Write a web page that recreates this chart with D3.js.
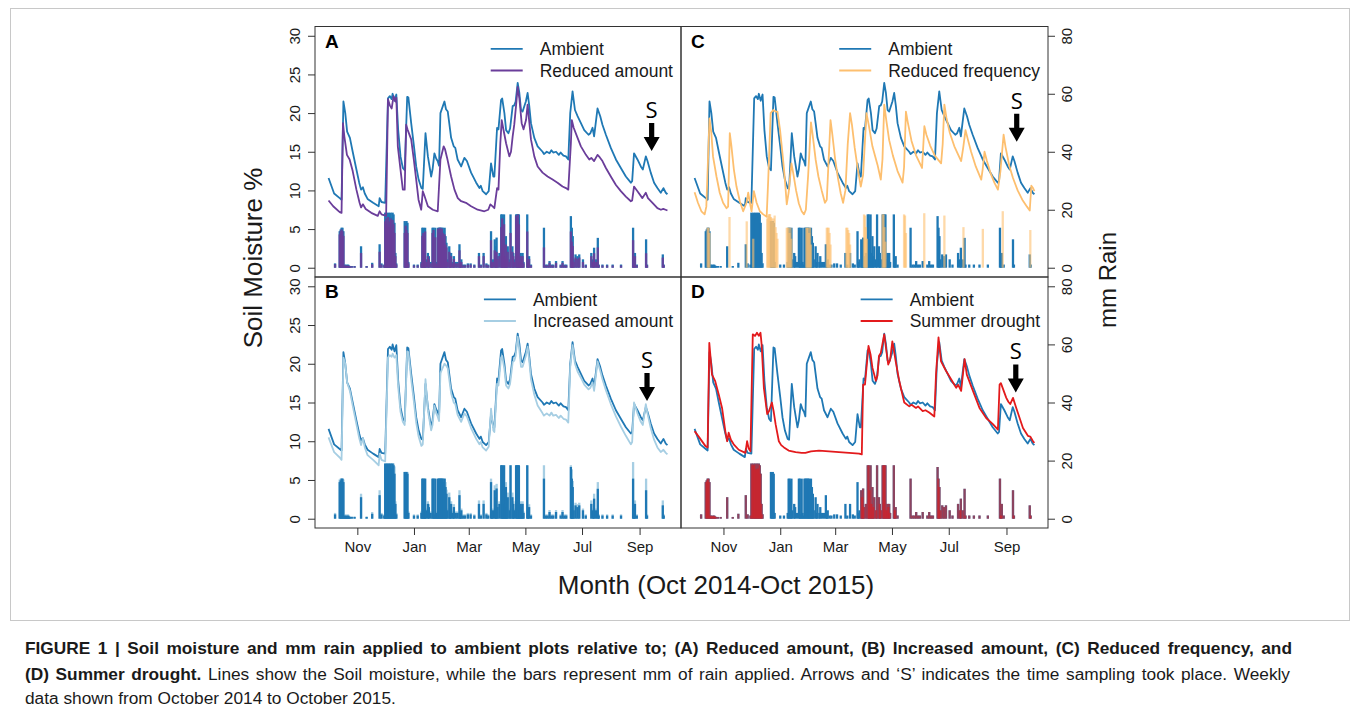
<!DOCTYPE html>
<html>
<head>
<meta charset="utf-8">
<script src="https://cdn.jsdelivr.net/npm/d3@7"></script>
<style>
  body { margin: 0; background: #fff; }
  text { font-family: "Liberation Sans", Arial, Helvetica, sans-serif; fill: #1a1a1a; }
</style>
</head>
<body>
<svg id="fig" width="1358" height="712"></svg>
<script>
// days are counted from 1 Oct 2014, moisture in %, rain in mm
const monthTicks = ['2014-11-01', '2015-01-01', '2015-03-01', '2015-05-01', '2015-07-01', '2015-09-01']
const moistTicks = [0, 5, 10, 15, 20, 25, 30]
const rainTicks = [0, 20, 40, 60, 80]

const ambientMoist = [[0,11.6],[6,9.6],[12,9.0],[14,8.8],[16,21.5],[18,20.0],[20,17.6],[23,16.8],[26,15.0],[30,12.7],[33,11.0],[35,10.1],[37,10.4],[39,9.6],[42,8.9],[48,8.4],[54,7.95],[55,9.0],[57,8.5],[61,8.4],[64,21.9],[66,22.2],[68,21.8],[69,22.5],[71,21.6],[73,22.4],[75,17.8],[77.5,14.4],[80,12.9],[82,12.6],[84.7,22.1],[86,22.0],[89,18.7],[92,15.7],[94.4,13.1],[97,11.4],[100,10.3],[101.5,10.2],[104.4,17.4],[107,14.4],[110.5,11.8],[112,12.7],[114,14.8],[116,14.1],[117.5,13.8],[119,13.2],[120.5,20.0],[124.8,21.5],[126.5,20.5],[128.4,20.2],[130,18.7],[132,16.8],[134.8,15.7],[136.5,15.5],[139,14.0],[142.8,13.1],[146.3,14.2],[149,13.8],[153.5,12.3],[159,11.0],[162.5,10.3],[164,10.6],[166,9.9],[169.7,9.5],[172.5,9.9],[175,13.5],[177.5,11.8],[178.6,11.8],[181.5,18.1],[183,17.9],[185.8,21.7],[187,21.9],[189.4,20.0],[191.2,17.8],[193.7,17.4],[195.5,18.0],[198.3,20.9],[200,21.0],[201.5,21.5],[203.7,23.9],[205.5,22.6],[207.3,20.4],[209,20.2],[212.5,21.5],[214.4,22.6],[216.2,20.9],[218,18.7],[221.6,16.8],[225.2,15.7],[230.5,15.0],[232,14.7],[235,15.0],[238,14.8],[240,15.2],[242,14.9],[245,15.0],[248,14.6],[250,14.9],[253,14.5],[255.7,14.4],[258.2,14.0],[260.3,20.0],[262.8,22.8],[265.4,20.4],[268.2,19.6],[271.8,18.7],[275.4,17.8],[280,17.2],[282,17.4],[284.3,18.1],[286,17.0],[289.7,20.6],[292.6,19.6],[295,18.5],[298.7,17.2],[304,15.5],[309.5,14.0],[314.8,12.9],[320.2,11.8],[325.6,11.0],[327,11.2],[329,14.8],[332.7,14.0],[336.3,13.1],[338.5,12.7],[341.7,14.4],[343.5,13.8],[347,12.3],[350.6,11.0],[354.2,10.3],[357.8,9.7],[360.7,10.3],[363.2,9.7],[365,9.5]]

const reducedAmountMoist = [[0,8.7],[5,7.95],[12,7.2],[14,7.1],[15.5,18.7],[17,17.0],[19.8,14.6],[22.7,14.0],[26,12.5],[30,10.1],[33.4,8.4],[35,7.8],[37,8.2],[40,7.6],[46,7.1],[53,6.7],[55,7.3],[57,6.9],[62,6.7],[64,21.8],[66,21.0],[68,20.6],[70,22.2],[72,21.5],[73,22.0],[74.6,15.7],[77.5,12.7],[80,10.1],[82,10.1],[83.6,18.5],[85,17.9],[89,16.6],[91.8,14.0],[94.4,11.4],[96.9,8.8],[99.8,7.5],[101.5,9.9],[103,9.4],[107,7.95],[112.3,7.5],[117.6,7.3],[120.5,14.0],[124,15.7],[125.5,15.3],[127.7,14.2],[132,11.8],[135.6,10.1],[139.2,9.0],[142.8,8.6],[148,8.4],[153.5,7.95],[160.6,7.5],[167.8,7.3],[172,7.5],[174.3,8.2],[177,7.9],[178.6,7.7],[181.5,10.3],[183,10.1],[185,16.1],[186.5,19.1],[188,18.1],[191.2,16.1],[194.7,14.4],[196.5,15.0],[198.3,17.0],[200,18.5],[201.9,20.9],[203.7,23.4],[205.5,21.9],[208,18.7],[210,17.9],[212.7,19.1],[214.4,21.1],[216,19.1],[218,16.6],[221.6,14.4],[225.2,13.1],[230.5,12.3],[235.9,11.8],[241.3,11.4],[246.6,11.0],[252,10.5],[255.7,10.3],[258.2,10.1],[261,16.1],[262,19.1],[264,18.1],[268.2,16.8],[271.8,15.7],[277.2,14.6],[280.8,14.0],[283,14.2],[286,13.8],[289.7,14.6],[292,14.3],[295,13.8],[298.7,12.9],[304,11.8],[309.5,10.7],[314.8,9.9],[320.2,9.2],[325.6,8.6],[327,8.7],[329,10.5],[332.7,9.9],[338,9.0],[341.7,9.7],[344,9.0],[348.9,8.4],[354.2,7.7],[358,7.5],[360.5,7.6],[363,7.5],[365,7.4]]

const increasedAmountMoist = [[0,10.5],[6,8.6],[12,7.9],[14,7.6],[16,20.8],[18,20.0],[20,17.6],[23,16.5],[26,14.6],[30,12.2],[33,10.4],[35,9.5],[37,10.4],[39,9.2],[42,8.2],[48,7.6],[54,6.9],[55,8.4],[57,7.6],[61,7.4],[64,20.8],[66,21.1],[68,20.9],[69,21.3],[71,20.8],[73,21.1],[75,17.0],[77.5,13.8],[80,12.5],[82,12.1],[84.7,21.6],[86,21.5],[89,18.0],[92,15.0],[94.4,12.4],[97,10.6],[100,9.4],[101.5,9.6],[104.4,18.0],[107,14.0],[110.5,11.4],[112,12.1],[114,14.6],[116,13.6],[117.5,13.2],[119,12.6],[120.5,18.8],[124.8,20.0],[126.5,19.8],[128.4,19.4],[130,18.0],[132,16.2],[134.8,15.0],[136.5,14.8],[139,13.4],[142.8,12.5],[146.3,13.6],[149,13.2],[153.5,11.7],[159,10.3],[162.5,9.6],[164,9.9],[166,9.2],[169.7,8.8],[172.5,9.3],[175,14.2],[177.5,11.4],[178.6,11.2],[181.5,17.4],[183,17.2],[185.8,20.8],[187,21.0],[189.4,19.3],[191.2,17.2],[193.7,16.8],[195.5,17.4],[198.3,20.2],[200,20.4],[201.5,21.0],[203.7,23.5],[205.5,21.8],[207.3,19.6],[209,19.6],[212.5,21.0],[214.4,22.2],[216.2,20.4],[218,18.0],[221.6,16.0],[225.2,14.6],[230.5,13.6],[232,13.3],[235,13.6],[238,13.3],[240,13.7],[242,13.3],[245,13.4],[248,13.0],[250,13.3],[253,12.9],[255.7,12.8],[258.2,12.4],[260.3,19.6],[262.8,22.4],[265.4,20.0],[268.2,19.0],[271.8,18.2],[275.4,17.3],[280,16.7],[282,16.9],[284.3,17.6],[286,16.5],[289.7,20.3],[292.6,19.1],[295,18.0],[298.7,16.6],[304,14.8],[309.5,13.2],[314.8,11.9],[320.2,10.7],[325.6,9.6],[327,9.9],[329,15.0],[332.7,13.6],[336.3,12.5],[338.5,12.1],[341.7,14.8],[343.5,13.6],[347,11.7],[350.6,10.2],[354.2,9.2],[357.8,8.6],[360.7,8.9],[363.2,8.5],[365,8.3]]

const reducedFreqMoist = [[0,9.75],[3.6,8.4],[7.3,7.3],[10.8,6.9],[12.6,7.9],[16,19.3],[18,17.4],[19.8,14.4],[23.5,11.8],[27,9.7],[30.6,8.4],[34.3,7.7],[36,7.9],[37.8,17.4],[39.5,15.8],[42.2,12.7],[45,10.5],[48.6,8.6],[52.2,7.3],[55.8,8.4],[57.6,9.7],[59.4,8.4],[61.2,7.3],[63.7,9.9],[66.6,8.4],[70.1,7.3],[73.7,6.9],[77.4,6.6],[79.1,11.4],[81.7,20.0],[84.5,20.4],[87,20.2],[89,20.2],[91.8,17.8],[94.7,14.4],[97,11.4],[99,8.2],[101,9.7],[104,13.5],[106,12.2],[109,10.0],[112,8.3],[115,7.3],[117.5,6.9],[119.5,7.5],[122,12.0],[125,18.8],[127,17.0],[130,14.0],[133,11.8],[136.5,10.0],[140,8.4],[142,8.8],[144,14.0],[146,19.1],[148,17.2],[151,14.0],[154,11.6],[157,9.6],[159.5,8.4],[162,10.0],[164.5,16.0],[167,20.0],[169,18.5],[172,15.5],[175,13.0],[178.5,10.5],[181,12.0],[184.6,20.0],[187,18.5],[191,15.7],[196.5,13.3],[200,11.4],[201.8,14.0],[203.7,21.1],[206,19.0],[209,16.5],[213,14.5],[218,12.5],[223.4,11.0],[225,13.0],[227,20.2],[229,18.8],[233,16.4],[238,14.5],[244.3,12.9],[246.8,18.3],[249,17.2],[253,15.8],[258,14.5],[264.8,13.5],[266.5,16.0],[268.3,21.1],[270.5,19.4],[274,17.5],[279,15.7],[286.3,13.8],[288.5,15.5],[291,17.8],[293.5,16.6],[297,15.0],[302,13.1],[307.9,11.4],[309.5,12.8],[311.4,15.0],[314,13.8],[318,12.2],[322,11.0],[325.8,10.1],[328.5,12.5],[331.9,17.2],[334,15.6],[338,13.2],[342,11.6],[347,10.0],[352,8.8],[357,7.9],[360,7.4],[361.7,10.6],[363.5,10.3],[365,9.9]]

const summerDroughtMoist = [[0,11.3],[5,10.5],[11.5,9.4],[14,9.2],[15.8,22.7],[18.7,18.6],[22,17.8],[26,16.0],[29.5,14.3],[33,11.3],[35,10.0],[36.6,11.1],[39,10.2],[42,9.6],[47.4,8.9],[54.6,8.5],[56.4,10.0],[58,9.1],[60,8.7],[62.5,23.8],[65,23.6],[67,24.0],[69,23.6],[70.8,24.0],[72,22.5],[74.4,16.9],[78,13.5],[80,13.9],[83,15.0],[85,13.8],[87,12.2],[90.5,10.0],[93,9.5],[96,9.2],[101,8.8],[108.5,8.6],[115,8.5],[119,8.5],[125,8.7],[133.6,8.8],[144.4,8.7],[155,8.6],[166,8.5],[176.7,8.4],[179.6,8.3],[181,17.3],[183,17.3],[186.8,22.3],[189,21.2],[191,19.5],[194.7,17.8],[196.5,18.5],[198,21.0],[200,21.4],[203.7,23.8],[205.5,22.1],[208,19.9],[210,20.5],[212.4,22.9],[214,21.8],[216,20.3],[219.8,17.8],[225.2,15.0],[230.6,14.5],[233,14.7],[237.8,14.3],[240,14.5],[245,13.9],[248,14.0],[252,13.7],[257.5,13.2],[259.3,18.6],[262,23.4],[264.7,20.3],[270,19.1],[275.5,18.0],[281,16.9],[283,17.3],[286.3,16.5],[290,20.6],[292.4,18.6],[299,16.5],[306,14.3],[313.2,13.0],[320.4,12.2],[325.8,11.5],[327.6,17.3],[329,17.5],[334.8,15.6],[337,15.1],[339,14.8],[342,15.6],[345.5,14.3],[352.7,11.7],[358,10.7],[360.5,10.6],[363.5,10.0],[365,9.8]]

const ambientRain = [[7,1.5],[12,12.6],[13,13.2],[14,13.8],[15,13.8],[16,12.6],[17,1.1],[18,0.8],[19,1.1],[20,0.8],[21,1.1],[22,0.8],[23,0.6],[25,0.6],[28,0.6],[35,7.4],[41,0.6],[47,1.7],[55,8.1],[57,1.5],[60,1.1],[61,19],[62,18.4],[63,19],[64,18.4],[65,19],[66,17],[67,19],[68,17.3],[69,19],[70,18.4],[71,15.5],[72,5.1],[73,1.5],[82,16.1],[83,15.5],[84,16.1],[85,15.5],[86,2],[92,1.1],[96,1.1],[100,2],[101,13.8],[102,13.8],[103,13.2],[104,13.8],[105,2.9],[107,5.1],[108,4],[110,2],[112,13.8],[113,13.8],[114,1.5],[115,13.8],[116,2],[117,1.1],[118,13.8],[119,13.8],[120,13.8],[121,13.8],[122,13.8],[123,13.8],[124,12.6],[125,13.8],[126,10.9],[127,8.6],[128,2.9],[130,7.4],[131,2],[132,5.1],[134,2],[135,4],[137,2],[139,2],[141,8.1],[142,2],[143,2.9],[145,1.1],[147,1.1],[150,1.5],[153,1.5],[157,1.1],[162,5.1],[164,1.1],[167,5.1],[170,1.5],[172,1.1],[175,12.6],[176,2],[177,2.9],[179,9.8],[180,7.4],[181,10.4],[182,4],[184,5.1],[186,18.4],[187,18.4],[188,9.8],[189,18.4],[190,5.1],[191,10.9],[192,4],[193,7.4],[195,2.9],[196,18.4],[198,7.4],[199,5.1],[200,2.9],[202,18.4],[203,18.4],[204,18.4],[205,18.4],[206,2.9],[207,5.1],[208,4],[209,5.1],[210,2],[214,18.4],[215,2.9],[216,4],[218,1.1],[232,13.8],[234,1.1],[236,1.1],[238,2.3],[240,1.1],[242,1.1],[245,2.3],[250,1.1],[252,2.3],[254,1.1],[256,1.1],[261,17.8],[262,13.8],[263,10.9],[264,2.9],[266,4.6],[268,4],[270,4.6],[274,2.9],[277,1.1],[283,5.1],[285,2.9],[286,6.9],[288,2.9],[290,10.3],[291,1.1],[295,1.1],[300,1.1],[306,1.1],[315,1.1],[328,13.8],[329,1.1],[330,5.1],[332,1.1],[342,9.8],[343,1.1],[360,4.6],[361,1.1]]

const reducedAmountRain = [[7,1.2],[12,11.5],[13,12.6],[14,13.2],[15,12.6],[16,11],[17,0.8],[18,0.6],[19,0.8],[20,0.6],[21,0.8],[22,0.6],[23,0.5],[25,0.5],[28,0.5],[35,5.1],[41,0.5],[47,1.2],[55,5.5],[57,1.1],[60,0.8],[61,16],[62,17],[63,15],[64,17.5],[65,14],[66,16],[67,17],[68,13],[69,16.5],[70,15],[71,12],[72,4],[73,1.1],[82,12],[83,14.5],[84,13],[85,12],[86,1.5],[92,0.8],[96,0.8],[100,1.5],[101,11],[102,12],[103,10],[104,12.5],[105,2],[107,4],[108,3],[110,1.5],[112,12],[113,13],[114,1.1],[115,10.5],[116,1.5],[117,0.8],[118,13.5],[119,12],[120,13.8],[121,11],[122,13.5],[123,12],[124,10],[125,11.5],[126,8],[127,7],[128,2],[130,5.5],[131,1.5],[132,4],[134,1.5],[135,3],[137,1.5],[139,1.5],[141,6],[142,1.5],[143,2],[145,0.8],[147,0.8],[150,1.1],[153,1.1],[157,0.8],[162,4],[164,0.8],[167,4],[170,1.1],[172,0.8],[175,9.5],[176,1.5],[177,2],[179,6],[180,5],[181,5.5],[182,3],[184,4],[186,14],[187,17],[188,7],[189,15],[190,4],[191,8],[192,3],[193,5.5],[195,2],[196,12],[198,5.5],[199,4],[200,2],[202,18],[203,17],[204,18.4],[205,15],[206,2],[207,4],[208,3],[209,4],[210,1.5],[214,12.5],[215,2],[216,3],[218,0.8],[232,7],[234,0.8],[236,0.8],[238,1.7],[240,0.8],[242,0.8],[245,1.7],[250,0.8],[252,1.7],[254,0.8],[256,0.8],[261,12.5],[262,9],[263,7.5],[264,2],[266,3.5],[268,3],[270,3.5],[274,2],[277,0.8],[283,4],[285,2],[286,5],[288,2],[290,7],[291,0.8],[295,0.8],[300,0.8],[306,0.8],[315,0.8],[328,9.5],[329,0.8],[330,4],[332,0.8],[342,5],[343,0.8],[360,3.5],[361,0.8]]

const increasedAmountRain = [[7,2],[12,13.5],[13,13.8],[14,13.8],[15,13.8],[16,13.5],[17,1.5],[18,1.1],[19,1.5],[20,1.1],[21,1.5],[22,1.1],[23,0.8],[25,0.8],[28,0.8],[35,8.6],[41,0.8],[47,2.3],[55,9.8],[57,2],[60,1.5],[61,19],[62,19],[63,19],[64,19],[65,19],[66,19],[67,19],[68,19],[69,19],[70,19],[71,18],[72,6],[73,2],[82,16.1],[83,16.1],[84,16.1],[85,16.1],[86,2.5],[92,1.5],[96,1.5],[100,2.5],[101,13.8],[102,13.8],[103,13.8],[104,13.8],[105,3.5],[107,6],[108,5],[110,2.5],[112,13.8],[113,13.8],[114,2],[115,13.8],[116,2.5],[117,1.5],[118,13.8],[119,13.8],[120,13.8],[121,13.8],[122,13.8],[123,13.8],[124,13.8],[125,13.8],[126,12.6],[127,10],[128,3.5],[130,9],[131,2.5],[132,6],[134,2.5],[135,5],[137,2.5],[139,2.5],[141,9.8],[142,2.5],[143,3.5],[145,1.5],[147,1.5],[150,2],[153,2],[157,1.5],[162,6.3],[164,1.5],[167,6.3],[170,2],[172,1.5],[175,13.8],[176,2.5],[177,3.5],[179,11.5],[180,9],[181,12],[182,5],[184,6],[186,18.4],[187,18.4],[188,11.5],[189,18.4],[190,6],[191,12.6],[192,5],[193,9],[195,3.5],[196,18.4],[198,9],[199,6],[200,3.5],[202,18.4],[203,18.4],[204,18.4],[205,18.4],[206,3.5],[207,6],[208,5],[209,6],[210,2.5],[214,18.4],[215,3.5],[216,5],[218,1.5],[232,18.4],[234,1.5],[236,1.5],[238,3],[240,1.5],[242,1.5],[245,3],[250,1.5],[252,3],[254,1.5],[256,1.5],[261,18.4],[262,17],[263,13],[264,3.5],[266,5.5],[268,5],[270,5.5],[274,3.5],[277,1.5],[283,6.3],[285,3.5],[286,8.6],[288,3.5],[290,12.6],[291,1.5],[295,1.5],[300,1.5],[306,1.5],[315,1.5],[328,19.5],[329,1.5],[330,6.3],[332,1.5],[342,13.8],[343,1.5],[360,6.3],[361,1.5]]

const reducedFreqRain = [[14,13.8],[15,13.8],[16,12],[37.5,17.5],[56,16],[63,10],[78,17],[79,18],[80,18.5],[81,18.5],[82,17.5],[83,17],[84,16],[85,17],[86,18],[87,14],[88,12],[89,10],[99,13.8],[100,13.8],[101,13.8],[102,12],[103,13.8],[104,10],[120,13.8],[121,13.8],[122,13.8],[123,12],[124,13.8],[125,8],[142,13.8],[143,13.8],[144,13.8],[145,12],[146,8],[163,13.8],[164,13.8],[165,13],[166,12],[167,8],[182,18.4],[183,18],[184,14],[185,10],[202,18.4],[203,18.4],[204,14],[205,9],[225,18.4],[226,18],[227,12],[246.7,18.8],[268.3,18],[288.8,14],[309.6,13.4],[331,19.5],[360.6,13]]

const summerDroughtRain = [[7,1.5],[12,12.6],[13,13.2],[14,13.8],[15,13.8],[16,12.6],[17,1.1],[18,0.8],[19,1.1],[20,0.8],[21,1.1],[22,0.8],[23,0.6],[25,0.6],[28,0.6],[35,7.4],[41,0.6],[47,1.7],[55,8.1],[57,1.5],[60,1.1],[61,19],[62,18.4],[63,19],[64,18.4],[65,19],[66,17],[67,19],[68,17.3],[69,19],[70,18.4],[71,15.5],[72,5.1],[73,1.5],[179,9.8],[180,7.4],[181,10.4],[182,4],[184,5.1],[186,18.4],[187,18.4],[188,9.8],[189,18.4],[190,5.1],[191,10.9],[192,4],[193,7.4],[195,2.9],[196,18.4],[198,7.4],[199,5.1],[200,2.9],[202,18.4],[203,18.4],[204,18.4],[205,18.4],[206,2.9],[207,5.1],[208,4],[209,5.1],[210,2],[214,18.4],[215,2.9],[216,4],[218,1.1],[232,13.8],[234,1.1],[236,1.1],[238,2.3],[240,1.1],[242,1.1],[245,2.3],[250,1.1],[252,2.3],[254,1.1],[256,1.1],[261,17.8],[262,13.8],[263,10.9],[264,2.9],[266,4.6],[268,4],[270,4.6],[274,2.9],[277,1.1],[283,5.1],[285,2.9],[286,6.9],[288,2.9],[290,10.3],[291,1.1],[295,1.1],[300,1.1],[306,1.1],[315,1.1],[328,13.8],[329,1.1],[330,5.1],[332,1.1],[342,9.8],[343,1.1],[360,4.6],[361,1.1]]

// sampling date (day) and the moisture level the arrow points at, per panel
const samplingDay = { A: 348, B: 343, C: 346, D: 345 }
const samplingTip = { A: 15.1, B: 15.2, C: 16.3, D: 16.3 }

const AMBIENT = '#1f78b4'
const T0 = new Date(2014, 9, 1)
function toDate(d) {
  return new Date(T0.getTime() + d * 864e5)
}

const cols = [[315, 681], [681, 1048]]
const rows = [[26.5, 277], [277, 528]]

const panels = [
  { key: 'A', col: 0, row: 0, label: 'Reduced amount', color: '#6a3d9a', moist: reducedAmountMoist, rain: reducedAmountRain, rainOpacity: 0.88, rainBehind: false },
  { key: 'B', col: 0, row: 1, label: 'Increased amount', color: '#a6cee3', moist: increasedAmountMoist, rain: increasedAmountRain, rainOpacity: 1, rainBehind: true },
  { key: 'C', col: 1, row: 0, label: 'Reduced frequency', color: '#fdbf6f', moist: reducedFreqMoist, rain: reducedFreqRain, rainOpacity: 0.6, rainBehind: false },
  { key: 'D', col: 1, row: 1, label: 'Summer drought', color: '#e31a1c', moist: summerDroughtMoist, rain: summerDroughtRain, rainOpacity: 0.55, rainBehind: false }
]

const svg = d3.select('#fig')

// outer figure frame
svg.append('rect')
  .attr('x', 10.5).attr('y', 8.5)
  .attr('width', 1339).attr('height', 612)
  .attr('fill', 'none').attr('stroke', '#c8c8c8').attr('stroke-width', 1)

function drawRain(g, data, x, y, color, opacity) {
  g.append('g')
    .attr('stroke', color)
    .attr('stroke-opacity', opacity)
    .attr('stroke-width', 2.3)
    .selectAll('line')
    .data(data)
    .join('line')
    .attr('x1', d => x(toDate(d[0])))
    .attr('x2', d => x(toDate(d[0])))
    .attr('y1', y(0))
    .attr('y2', d => y(d[1]))
}

function drawLine(g, data, x, y, color) {
  const line = d3.line()
    .x(d => x(toDate(d[0])))
    .y(d => y(d[1]))
  g.append('path')
    .datum(data)
    .attr('fill', 'none')
    .attr('stroke', color)
    .attr('stroke-width', 1.8)
    .attr('stroke-linejoin', 'round')
    .attr('d', line)
}

panels.forEach(function(p) {
  const [x0, x1] = cols[p.col]
  const [y0, y1] = rows[p.row]

  // R style 4% padding around data range
  const x = d3.scaleTime()
    .domain([toDate(-14.6), toDate(379.6)])
    .range([x0, x1])
  const yM = d3.scaleLinear().domain([-1.2, 31.2]).range([y1, y0])
  const yR = d3.scaleLinear().domain([-3.2, 83.2]).range([y1, y0])

  const g = svg.append('g').attr('class', 'panel-' + p.key)

  if (p.rainBehind) {
    drawRain(g, p.rain, x, yR, p.color, p.rainOpacity)
    drawRain(g, ambientRain, x, yR, AMBIENT, 1)
  } else {
    drawRain(g, ambientRain, x, yR, AMBIENT, 1)
    drawRain(g, p.rain, x, yR, p.color, p.rainOpacity)
  }

  drawLine(g, ambientMoist, x, yM, AMBIENT)
  drawLine(g, p.moist, x, yM, p.color)

  // legend, top right
  const names = ['Ambient', p.label]
  const colors = [AMBIENT, p.color]
  const lg = g.append('g')
  const texts = lg.selectAll('text')
    .data(names)
    .join('text')
    .attr('font-size', 17.5)
    .attr('y', (d, i) => y0 + 28.5 + i * 21.7)
    .text(d => d)
  const w = d3.max(texts.nodes(), n => n.getComputedTextLength())
  const tx = x1 - 8 - w
  texts.attr('x', tx)
  lg.selectAll('line')
    .data(colors)
    .join('line')
    .attr('x1', tx - 49).attr('x2', tx - 17)
    .attr('y1', (d, i) => y0 + 22.3 + i * 21.7)
    .attr('y2', (d, i) => y0 + 22.3 + i * 21.7)
    .attr('stroke', d => d)
    .attr('stroke-width', 1.8)

  // panel letter
  g.append('text')
    .attr('x', x0 + 10).attr('y', y0 + 21)
    .attr('font-size', 19).attr('font-weight', 'bold')
    .style('fill', '#000')
    .text(p.key)

  // sampling arrow with S
  const ax = x(toDate(samplingDay[p.key]))
  const ay = yM(samplingTip[p.key])
  g.append('path')
    .attr('d', `M${ax - 2.6},${ay - 28} L${ax + 2.6},${ay - 28} L${ax + 2.6},${ay - 14} L${ax + 8},${ay - 14} L${ax},${ay} L${ax - 8},${ay - 14} L${ax - 2.6},${ay - 14} Z`)
    .attr('fill', '#000')
  g.append('text')
    .attr('x', ax).attr('y', ay - 33)
    .attr('text-anchor', 'middle')
    .attr('font-size', 22)
    .style('font-family', '"Open Sans", "Liberation Sans", sans-serif')
    .style('fill', '#000')
    .text('S')

  // box
  g.append('rect')
    .attr('x', x0).attr('y', y0)
    .attr('width', x1 - x0).attr('height', y1 - y0)
    .attr('fill', 'none').attr('stroke', '#333').attr('stroke-width', 1)

  // axes
  if (p.col === 0) {
    const ax = g.append('g')
      .attr('transform', `translate(${x0},0)`)
      .call(d3.axisLeft(yM).tickValues(moistTicks).tickSize(7).tickSizeOuter(0))
    ax.select('.domain').remove()
    ax.selectAll('.tick line').attr('stroke', '#333')
    ax.selectAll('.tick text')
      .attr('transform', 'rotate(-90)')
      .attr('x', 0).attr('y', -15.5).attr('dy', 0)
      .attr('text-anchor', 'middle')
      .attr('font-size', 15)
  } else {
    const ax = g.append('g')
      .attr('transform', `translate(${x1},0)`)
      .call(d3.axisRight(yR).tickValues(rainTicks).tickSize(7).tickSizeOuter(0))
    ax.select('.domain').remove()
    ax.selectAll('.tick line').attr('stroke', '#333')
    ax.selectAll('.tick text')
      .attr('transform', 'rotate(-90)')
      .attr('x', 0).attr('y', 23.5).attr('dy', 0)
      .attr('text-anchor', 'middle')
      .attr('font-size', 15)
  }
  if (p.row === 1) {
    const ax = g.append('g')
      .attr('transform', `translate(0,${y1})`)
      .call(d3.axisBottom(x)
        .tickValues(monthTicks.map(d3.timeParse('%Y-%m-%d')))
        .tickFormat(d3.timeFormat('%b'))
        .tickSize(7).tickSizeOuter(0))
    ax.select('.domain').remove()
    ax.selectAll('.tick line').attr('stroke', '#333')
    ax.selectAll('.tick text')
      .attr('y', 13).attr('font-size', 15)
  }
})

svg.selectAll('.tick text').style('font-family', '"Liberation Sans", Arial, sans-serif').style('fill', '#1a1a1a')

// axis titles
svg.append('text')
  .attr('transform', 'translate(253,258) rotate(-90)')
  .attr('text-anchor', 'middle').attr('dy', '0.35em')
  .attr('font-size', 26)
  .text('Soil Moisture %')
svg.append('text')
  .attr('transform', 'translate(1108,280) rotate(-90)')
  .attr('text-anchor', 'middle').attr('dy', '0.35em')
  .attr('font-size', 24)
  .text('mm Rain')
svg.append('text')
  .attr('x', 716).attr('y', 594)
  .attr('text-anchor', 'middle')
  .attr('font-size', 26)
  .text('Month (Oct 2014-Oct 2015)')

// caption, first two lines justified like the journal layout
const cap = svg.append('g').attr('font-size', 17.3).style('fill', '#231f20')
const c1 = cap.append('text').attr('x', 25).attr('y', 654)
  .attr('font-weight', 'bold')
  .text('FIGURE 1 | Soil moisture and mm rain applied to ambient plots relative to; (A) Reduced amount, (B) Increased amount, (C) Reduced frequency, and')
const c2 = cap.append('text').attr('x', 25).attr('y', 680)
c2.append('tspan').attr('font-weight', 'bold').text('(D) Summer drought.')
c2.append('tspan').text(' Lines show the Soil moisture, while the bars represent mm of rain applied. Arrows and \u2018S\u2019 indicates the time sampling took place. Weekly')
cap.append('text').attr('x', 25).attr('y', 704)
  .text('data shown from October 2014 to October 2015.')

function justify(t, right) {
  const n = t.node()
  const spaces = (n.textContent.match(/ /g) || []).length
  const extra = (right - 25 - n.getComputedTextLength()) / spaces
  t.attr('word-spacing', extra)
}
justify(c1, 1292)
justify(c2, 1290)
</script>
</body>
</html>
